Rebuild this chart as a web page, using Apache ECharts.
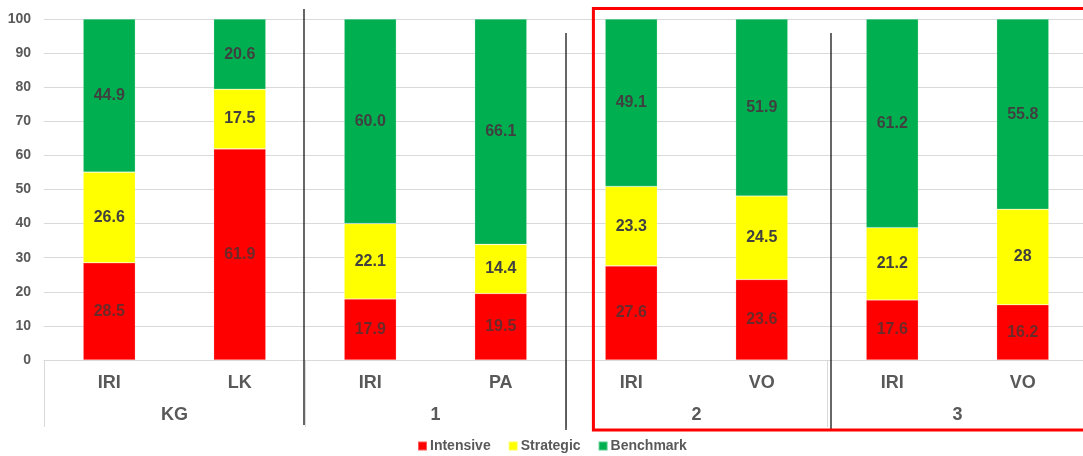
<!DOCTYPE html>
<html>
<head>
<meta charset="utf-8">
<script src="https://cdn.jsdelivr.net/npm/echarts@6/dist/echarts.min.js"></script>
<style>
  html, body { margin: 0; padding: 0; background: #fff; }
  #main { width: 1083px; height: 456px; }
</style>
</head>
<body>
<div id="main"></div>
<script>
var categories = ['IRI', 'LK', 'IRI', 'PA', 'IRI', 'VO', 'IRI', 'VO'];
var groups = ['KG', '1', '2', '3'];
var intensive = ['28.5', '61.9', '17.9', '19.5', '27.6', '23.6', '17.6', '16.2'];
var strategic = ['26.6', '17.5', '22.1', '14.4', '23.3', '24.5', '21.2', '28'];
var benchmark = ['44.9', '20.6', '60.0', '66.1', '49.1', '51.9', '61.2', '55.8'];
var yMin = 0, yMax = 100, yStep = 10;

var font = '"Liberation Sans", Arial, sans-serif';

var chart = () => {
    var dom = document.getElementById('main');
    var myChart = echarts.init(dom, null, { renderer: 'canvas' });

    var mkSeries = (name, data, color, labelColor) => ({
        name: name,
        type: 'bar',
        stack: 'total',
        barWidth: '40%',
        data: data,
        itemStyle: { color: color, borderColor: 'rgba(255,255,255,0.35)', borderWidth: 0.6 },
        label: {
            show: true,
            position: 'inside',
            formatter: p => p.data,
            color: labelColor,
            fontFamily: font,
            fontWeight: 'bold',
            fontSize: 16
        }
    });

    var option = {
        animation: false,
        grid: { left: 44, width: 1044, top: 19, bottom: 96, outerBoundsMode: 'none' },
        legend: {
            top: 434,
            left: 412,
            icon: 'rect',
            itemWidth: 9,
            itemHeight: 9,
            itemGap: 17,
            textStyle: { color: '#595959', fontFamily: font, fontWeight: 'bold', fontSize: 14, padding: [0, 0, 0, -2] },
            data: ['Intensive', 'Strategic', 'Benchmark']
        },
        xAxis: [
            {
                type: 'category',
                data: categories,
                position: 'bottom',
                axisLine: { lineStyle: { color: '#d9d9d9' } },
                axisTick: { show: false },
                axisLabel: { color: '#595959', fontFamily: font, fontWeight: 'bold', fontSize: 18, margin: 14, interval: 0 }
            },
            {
                type: 'category',
                data: groups,
                position: 'bottom',
                axisLine: { show: false },
                axisTick: { show: true, length: 67, interval: 0, lineStyle: { color: '#d9d9d9' } },
                axisLabel: { color: '#595959', fontFamily: font, fontWeight: 'bold', fontSize: 18, margin: 46, interval: 0 }
            }
        ],
        yAxis: {
            type: 'value',
            min: yMin,
            max: yMax,
            interval: yStep,
            axisLine: { show: false },
            axisTick: { show: false },
            splitLine: { lineStyle: { color: '#d9d9d9' } },
            axisLabel: { color: '#595959', fontFamily: font, fontWeight: 'bold', fontSize: 14, margin: 13 }
        },
        series: [
            mkSeries('Intensive', intensive, '#ff0000', '#6b2a2a'),
            mkSeries('Strategic', strategic, '#ffff00', '#404040'),
            mkSeries('Benchmark', benchmark, '#00b050', '#404040')
        ]
    };
    myChart.setOption(option);

    // group separators and highlight box, placed from the axis scales
    var cx = i => myChart.convertToPixel({ xAxisIndex: 0 }, i);
    var yTop = myChart.convertToPixel({ yAxisIndex: 0 }, yMax);
    var yZero = myChart.convertToPixel({ yAxisIndex: 0 }, yMin);
    var step = cx(1) - cx(0);
    var b1 = (cx(1) + cx(2)) / 2;
    var b2 = (cx(3) + cx(4)) / 2;
    var b3 = (cx(5) + cx(6)) / 2;

    var vline = (x, y1, y2) => ({
        type: 'line',
        shape: { x1: x, y1: y1, x2: x, y2: y2 },
        style: { stroke: '#000', lineWidth: 1.2 },
        z: 100
    });

    myChart.setOption({
        graphic: [
            vline(b1 - 1, yTop - 10, yZero + 65),
            vline(b2, yTop + 14, yZero + 70),
            vline(b3 + 4, yTop + 14, yZero + 70),
            {
                type: 'rect',
                shape: { x: b2 + step * 0.21, y: yTop - 10.5, width: 600, height: yZero - yTop + 80.5 },
                style: { fill: 'none', stroke: '#ff0000', lineWidth: 3 },
                z: 100
            }
        ]
    });
    window.addEventListener('resize', myChart.resize);
};

chart();
</script>
</body>
</html>
